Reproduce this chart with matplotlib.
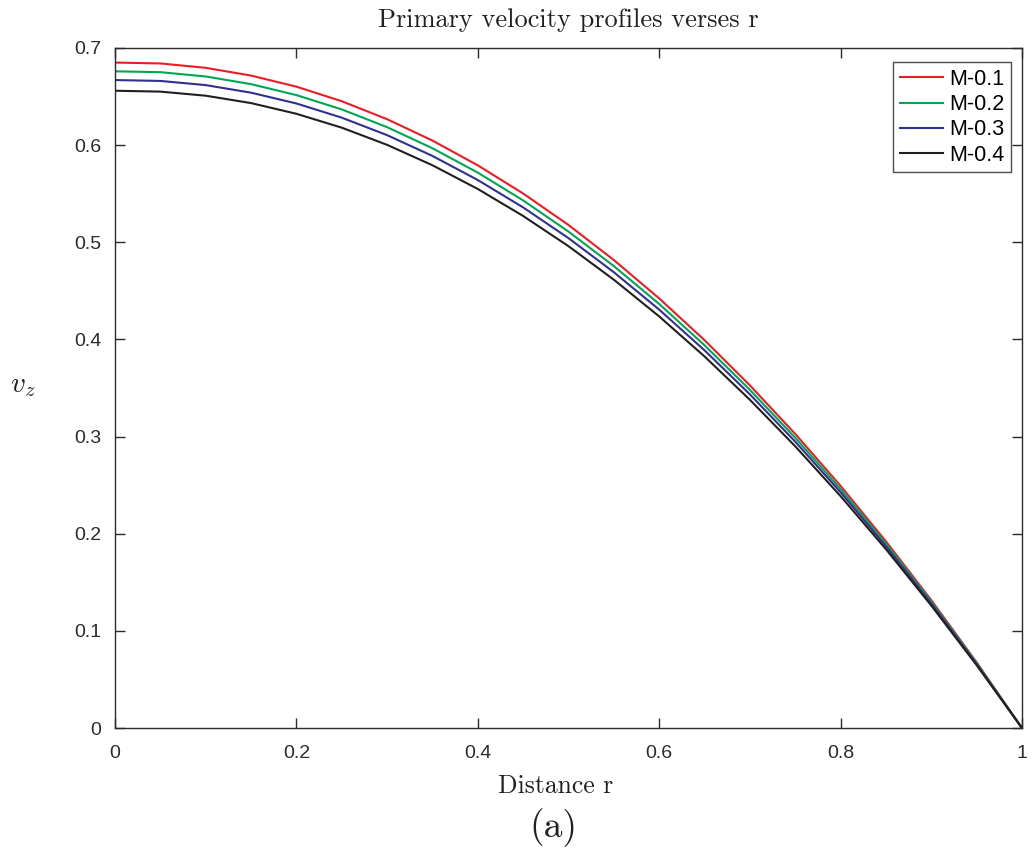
import matplotlib
matplotlib.use("Agg")
import matplotlib.pyplot as plt

r = [0.00, 0.05, 0.10, 0.15, 0.20, 0.25, 0.30, 0.35, 0.40, 0.45, 0.50,
     0.55, 0.60, 0.65, 0.70, 0.75, 0.80, 0.85, 0.90, 0.95, 1.00]

m01 = [0.6850, 0.6841, 0.6796, 0.6716, 0.6602, 0.6452, 0.6267, 0.6047, 0.5792, 0.5502, 0.5178,
       0.4817, 0.4422, 0.3992, 0.3527, 0.3027, 0.2492, 0.1921, 0.1316, 0.0676, 0.0]
m02 = [0.6760, 0.6751, 0.6707, 0.6628, 0.6515, 0.6368, 0.6185, 0.5968, 0.5717, 0.5431, 0.5110,
       0.4755, 0.4365, 0.3940, 0.3481, 0.2988, 0.2459, 0.1896, 0.1299, 0.0667, 0.0]
m03 = [0.6670, 0.6661, 0.6618, 0.6540, 0.6429, 0.6283, 0.6103, 0.5889, 0.5641, 0.5359, 0.5043,
       0.4692, 0.4307, 0.3888, 0.3435, 0.2948, 0.2427, 0.1871, 0.1282, 0.0658, 0.0]
m04 = [0.6560, 0.6551, 0.6509, 0.6433, 0.6323, 0.6180, 0.6003, 0.5793, 0.5549, 0.5271, 0.4960,
       0.4615, 0.4237, 0.3825, 0.3379, 0.2900, 0.2387, 0.1841, 0.1261, 0.0647, 0.0]

labels = ["M-0.1", "M-0.2", "M-0.3", "M-0.4"]
colors = ["#ED1C24", "#00A651", "#2E3192", "#231F20"]
xticks = [0, 0.2, 0.4, 0.6, 0.8, 1]
xticklabels = ["0", "0.2", "0.4", "0.6", "0.8", "1"]
yticks = [0, 0.1, 0.2, 0.3, 0.4, 0.5, 0.6, 0.7]
yticklabels = ["0", "0.1", "0.2", "0.3", "0.4", "0.5", "0.6", "0.7"]

plt.rcParams['mathtext.fontset'] = 'cm'
plt.rcParams['font.family'] = ['Liberation Sans', 'DejaVu Sans']

fig = plt.figure(figsize=(10.35, 8.48), dpi=100)
ax = fig.add_axes([0.1111, 0.1415, 0.8763, 0.8019])

for ys, lab, c in zip([m01, m02, m03, m04], labels, colors):
    ax.plot(r, ys, color=c, lw=1.5, label=lab)

ax.set_xlim(0, 1)
ax.set_ylim(0, 0.7)
ax.set_xticks(xticks)
ax.set_xticklabels(xticklabels)
ax.set_yticks(yticks)
ax.set_yticklabels(yticklabels)
ax.tick_params(direction='in', top=True, right=True, length=7, width=1,
               labelsize=14, colors='#2b2b2b')
ax.tick_params(axis='x', pad=12)
ax.tick_params(axis='y', pad=10)
for s in ax.spines.values():
    s.set_color('#2b2b2b')
    s.set_linewidth(1.0)

ax.set_title("Primary velocity profiles verses r", fontfamily='cmr10',
             fontsize=19, color='#231F20', pad=15)
ax.set_xlabel("Distance r", fontfamily='cmr10', fontsize=18.5,
              color='#231F20')
ax.xaxis.set_label_coords(0.4857, -0.068)
fig.text(0.5343, 1 - 828 / 848, "(a)", fontfamily='cmr10', fontsize=27,
         ha='center', va='center', color='#231F20')
ax.set_ylabel(r"$v_z$", fontsize=21, rotation=0, color='#231F20',
              labelpad=0, va='center')
ax.yaxis.set_label_coords(-0.1015, 0.505)

leg = ax.legend(loc='upper right', bbox_to_anchor=(0.988, 0.979),
                fontsize=15.5, frameon=True, fancybox=False, handlelength=2.0,
                borderpad=0.3, labelspacing=0.2, handletextpad=0.3,
                borderaxespad=0)
leg.get_frame().set_edgecolor('#231F20')
leg.get_frame().set_linewidth(1.0)

fig.savefig("out.png", dpi=100)
